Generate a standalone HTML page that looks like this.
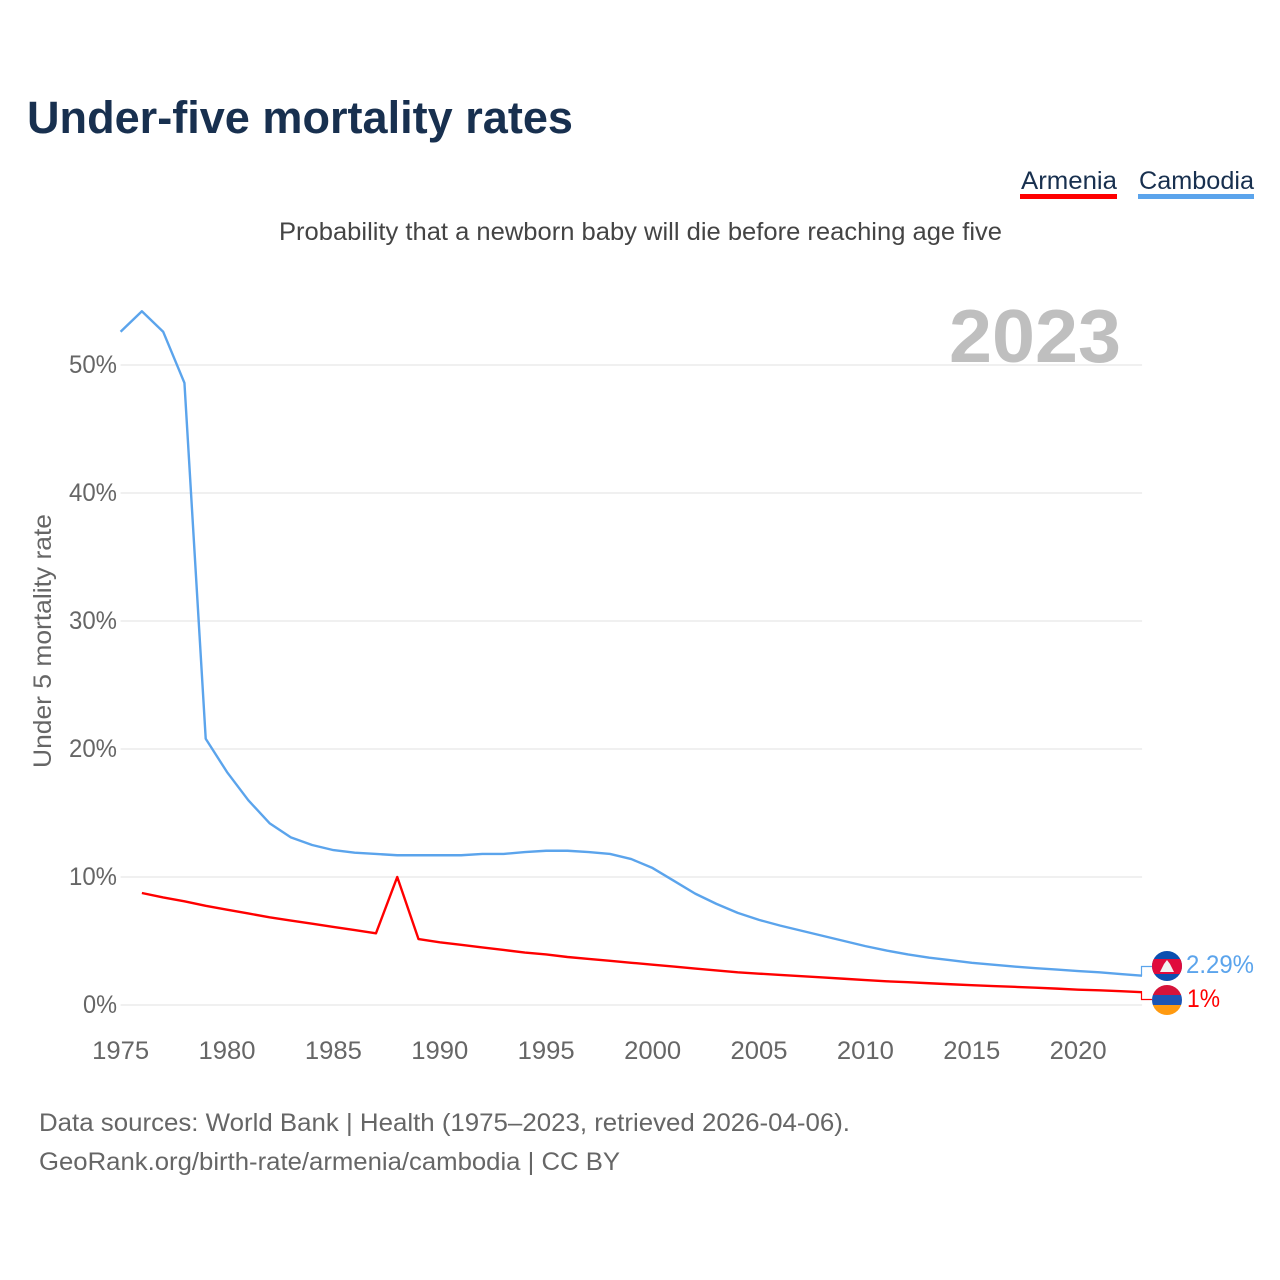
<!DOCTYPE html>
<html lang="en">
<head>
<meta charset="utf-8">
<title>Under-five mortality rates</title>
<style>
html,body{margin:0;padding:0;background:#fff;}
svg{display:block;font-family:"Liberation Sans",sans-serif;}
</style>
</head>
<body>
<svg id="chart" xmlns="http://www.w3.org/2000/svg" width="1280" height="1280" viewBox="0 0 1280 1280">
  <rect x="0" y="0" width="1280" height="1280" fill="#ffffff"/>
  <text x="27" y="133" font-size="45" font-weight="700" fill="#18304f" textLength="546" lengthAdjust="spacingAndGlyphs">Under-five mortality rates</text>

  <g>
    <text x="1021" y="189" font-size="25" fill="#18304f" textLength="96" lengthAdjust="spacingAndGlyphs">Armenia</text>
    <rect x="1020" y="194" width="97" height="5" fill="#ff0000"/>
  </g>
  <g>
    <text x="1139" y="189" font-size="25" fill="#18304f" textLength="115" lengthAdjust="spacingAndGlyphs">Cambodia</text>
    <rect x="1138" y="194" width="116" height="5" fill="#5ba4ec"/>
  </g>

  <text x="279" y="240" font-size="25" fill="#444444" textLength="723" lengthAdjust="spacingAndGlyphs">Probability that a newborn baby will die before reaching age five</text>

  <g id="grid"></g>
  <text x="949" y="362" font-size="75" font-weight="700" fill="#bfbfbf" textLength="172" lengthAdjust="spacingAndGlyphs">2023</text>
  <g id="yticks"></g>
  <g id="xticks"></g>
  <text transform="translate(51,768) rotate(-90)" x="0" y="0" font-size="25" fill="#666666" textLength="254" lengthAdjust="spacingAndGlyphs">Under 5 mortality rate</text>

  <g id="series"></g>

  <g>
    <clipPath id="clip-kh"><circle cx="1167" cy="966" r="15"/></clipPath>
    <g clip-path="url(#clip-kh)">
      <rect x="1152" y="951" width="30" height="30" fill="#0b4fb0"/>
      <rect x="1152" y="959" width="30" height="15" fill="#e00b3c"/>
      <path d="M1160 972 L1164 964 L1167 960 L1170 964 L1174 972 Z" fill="#f2f2f2"/>
    </g>
  </g>
  <g>
    <clipPath id="clip-am"><circle cx="1167" cy="1000" r="15"/></clipPath>
    <g clip-path="url(#clip-am)">
      <rect x="1152" y="985" width="30" height="10" fill="#d6133a"/>
      <rect x="1152" y="995" width="30" height="10" fill="#1c55b5"/>
      <rect x="1152" y="1005" width="30" height="10" fill="#ff9a10"/>
    </g>
  </g>
  <text id="label-kh" x="1186" y="973" font-size="25" fill="#5ba4ec" textLength="68" lengthAdjust="spacingAndGlyphs"></text>
  <text id="label-am" x="1187" y="1007" font-size="25" fill="#ff0000" textLength="33" lengthAdjust="spacingAndGlyphs"></text>

  <text x="39" y="1131" font-size="25" fill="#666666" textLength="811" lengthAdjust="spacingAndGlyphs">Data sources: World Bank | Health (1975–2023, retrieved 2026-04-06).</text>
  <text x="39" y="1170" font-size="25" fill="#666666" textLength="581" lengthAdjust="spacingAndGlyphs">GeoRank.org/birth-rate/armenia/cambodia | CC BY</text>
</svg>
<script>
var startYear = 1975;
var years = [1975,1976,1977,1978,1979,1980,1981,1982,1983,1984,1985,1986,1987,1988,1989,1990,1991,1992,1993,1994,1995,1996,1997,1998,1999,2000,2001,2002,2003,2004,2005,2006,2007,2008,2009,2010,2011,2012,2013,2014,2015,2016,2017,2018,2019,2020,2021,2022,2023];
var cambodiaValues = [52.6,54.2,52.6,48.6,20.8,18.2,16.0,14.2,13.1,12.5,12.1,11.9,11.8,11.7,11.7,11.7,11.7,11.8,11.8,11.95,12.05,12.05,11.95,11.8,11.4,10.7,9.7,8.7,7.9,7.2,6.65,6.2,5.8,5.4,5.0,4.6,4.25,3.95,3.7,3.5,3.3,3.15,3.0,2.88,2.77,2.65,2.55,2.42,2.29];
var armeniaValues = [null,8.75,8.4,8.1,7.75,7.45,7.15,6.85,6.6,6.35,6.1,5.85,5.6,10,5.15,4.9,4.7,4.5,4.3,4.1,3.95,3.75,3.6,3.45,3.3,3.15,3.0,2.85,2.7,2.55,2.45,2.35,2.25,2.15,2.05,1.95,1.85,1.78,1.7,1.62,1.55,1.48,1.42,1.35,1.28,1.2,1.15,1.08,1.0];
var yTickValues = [0,10,20,30,40,50];
var xTickValues = [1975,1980,1985,1990,1995,2000,2005,2010,2015,2020];
var cambodiaEndLabel = "2.29%";
var armeniaEndLabel = "1%";

var NS = "http://www.w3.org/2000/svg";
function xScale(year){ return 120.6 + (year - startYear) * 21.28; }
function yScale(value){ return 1005 - value * 12.8; }
function make(tag, parent){
  var el = document.createElementNS(NS, tag);
  parent.appendChild(el);
  return el;
}

var gridGroup = document.getElementById("grid");
var yGroup = document.getElementById("yticks");
yTickValues.forEach(function(v){
  var line = make("line", gridGroup);
  
  
  line.setAttribute("x1", xScale(startYear));
  line.setAttribute("x2", xScale(2023));
  line.setAttribute("y1", yScale(v));
  line.setAttribute("y2", yScale(v));
  line.setAttribute("stroke", "#f0f0f0");
  line.setAttribute("stroke-width", "2");
  var t = make("text", yGroup);
  
  
  t.setAttribute("x", 117);
  t.setAttribute("y", yScale(v) + 8);
  t.setAttribute("text-anchor", "end");
  t.setAttribute("font-size", "25");
  t.setAttribute("fill", "#666666");
  t.setAttribute("textLength", v === 0 ? 34 : 48);
  t.setAttribute("lengthAdjust", "spacingAndGlyphs");
  t.textContent = v + "%";
});

var xGroup = document.getElementById("xticks");
xTickValues.forEach(function(y){
  var t = make("text", xGroup);
  
  
  t.setAttribute("x", xScale(y));
  t.setAttribute("y", 1059);
  t.setAttribute("text-anchor", "middle");
  t.setAttribute("font-size", "25");
  t.setAttribute("fill", "#666666");
  t.setAttribute("textLength", 57);
  t.setAttribute("lengthAdjust", "spacingAndGlyphs");
  t.textContent = String(y);
});

function linePath(values){
  var d = "";
  values.forEach(function(v, i){
    if (v === null) return;
    d += (d ? " L" : "M") + xScale(years[i]).toFixed(2) + " " + yScale(v).toFixed(2);
  });
  return d;
}
var seriesGroup = document.getElementById("series");

var cambodiaLine = make("path", seriesGroup);


cambodiaLine.setAttribute("d", linePath(cambodiaValues));
cambodiaLine.setAttribute("fill", "none");
cambodiaLine.setAttribute("stroke", "#5ba4ec");
cambodiaLine.setAttribute("stroke-width", "2.4");
cambodiaLine.setAttribute("stroke-linejoin", "round");

var armeniaLine = make("path", seriesGroup);


armeniaLine.setAttribute("d", linePath(armeniaValues));
armeniaLine.setAttribute("fill", "none");
armeniaLine.setAttribute("stroke", "#ff0000");
armeniaLine.setAttribute("stroke-width", "2.4");
armeniaLine.setAttribute("stroke-linejoin", "round");

var cambodiaEndY = yScale(cambodiaValues[cambodiaValues.length - 1]);
var armeniaEndY = yScale(armeniaValues[armeniaValues.length - 1]);

var cambodiaConnector = make("path", seriesGroup);


cambodiaConnector.setAttribute("d", "M1141.5 " + cambodiaEndY.toFixed(2) + " L1141.5 966.5 L1152 966.5");
cambodiaConnector.setAttribute("style", "fill:none;stroke:#5ba4ec;stroke-width:1.2");

var armeniaConnector = make("path", seriesGroup);


armeniaConnector.setAttribute("d", "M1141.5 " + armeniaEndY.toFixed(2) + " L1141.5 999.5 L1152 999.5");
armeniaConnector.setAttribute("style", "fill:none;stroke:#ff0000;stroke-width:1.2");

document.getElementById("label-kh").textContent = cambodiaEndLabel;
document.getElementById("label-am").textContent = armeniaEndLabel;
</script>
</body>
</html>
